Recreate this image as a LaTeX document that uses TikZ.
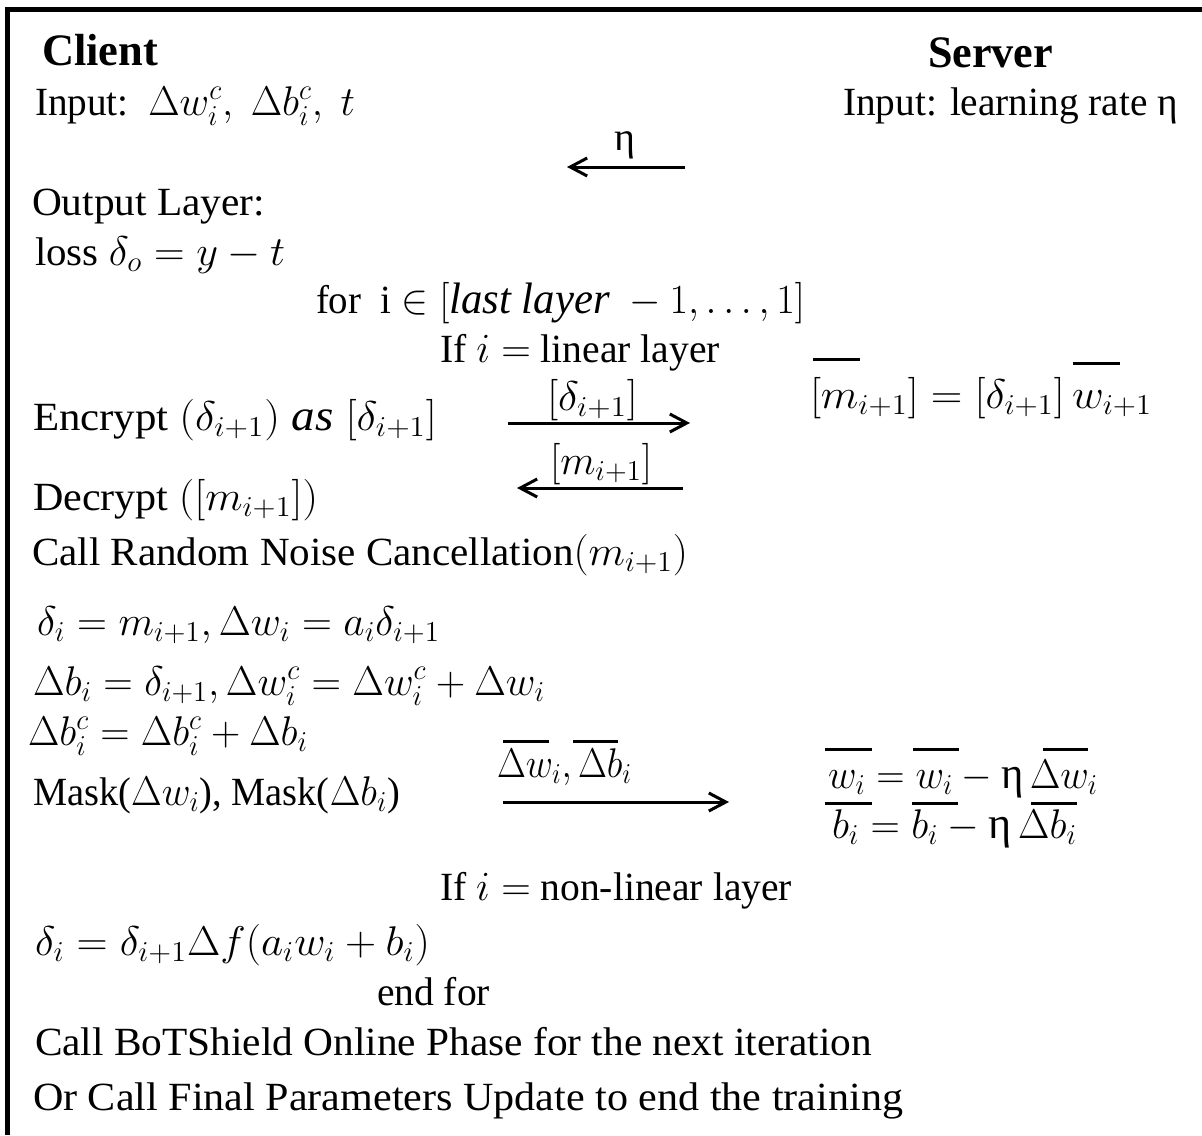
\documentclass[tikz,border=0pt]{standalone}
\usepackage{fontspec}
\setmainfont{Liberation Serif}
\usepackage{amsmath}
\usepackage{graphicx}
\usetikzlibrary{arrows.meta}
% set a line to a given width, keeping its natural height
\newcommand{\fitto}[2]{\resizebox{#1}{\height}{#2}}
\begin{document}
\begin{tikzpicture}[x=0.5pt,y=-0.5pt,
  lbl/.style={anchor=base west,inner sep=0pt,outer sep=0pt,font=\fontsize{20}{24}\selectfont},
  mlbl/.style={lbl,font=\fontsize{22.5}{27}\selectfont},
  hd/.style={lbl,font=\fontsize{22.5}{27}\selectfont\bfseries},
  msg/.style={line width=1.5pt,-{Straight Barb[length=8.5pt,width=9pt]}},
  frame/.style={line width=2.4pt,line join=miter},
  bar/.style={line width=1.5pt}]
\useasboundingbox (0,0) rectangle (1202,1135);

% open frame: left and top edges
\draw[frame] (7.5,1135) -- (7.5,9.8) -- (1202,9.8);

% headers and inputs
\node[hd] (client) at (42,65) {\fitto{58pt}{Client}};
\node[hd] (server) at (928,67) {\fitto{62.5pt}{Server}};
\node[lbl] (cin) at (35,115) {\fitto{160pt}{Input:\ \ {\fontsize{22}{26}\selectfont$\Delta w_i^c,\ \Delta b_i^c,\ t$}}};
\node[lbl] (sin) at (843,115) {\fitto{167.5pt}{Input: learning rate η}};

% learning rate sent to the client
\node[lbl,anchor=base] (eta) at (625,150) {η};
\coordinate (etaS) at (685,167);
\coordinate (etaC) at (567,167);
\draw[msg] (etaS) -- (etaC);

% client: output layer
\node[lbl] (outl) at (32,215) {\fitto{116.5pt}{Output Layer:}};
\node[lbl] (loss) at (35,265) {\fitto{125pt}{loss {\fontsize{22}{26}\selectfont$\delta_o = y - t$}}};
\node[lbl] (forl) at (316,313) {\fitto{244.5pt}{for\ \ i {\fontsize{22}{26}\selectfont$\in [\mathit{last\ layer}\ -1,\ldots,1]$}}};
\node[lbl] (iflin) at (440,362) {\fitto{140pt}{If $i =$ linear layer}};

% linear layer exchange
\node[mlbl] (smul) at (810,408) {\fitto{171pt}{$[m_{i+1}] = [\delta_{i+1}]\,w_{i+1}$}};
\draw[bar] (813,359) -- (860,359);
\draw[bar] (1073,363) -- (1120,363);

\node[lbl] (enc) at (33,430) {\fitto{202pt}{Encrypt {\fontsize{22}{26}\selectfont$(\delta_{i+1})\ \mathit{as}\ [\delta_{i+1}]$}}};
\node[mlbl] (dlab) at (547,410) {\fitto{45.5pt}{$[\delta_{i+1}]$}};
\coordinate (dC) at (508,423);
\coordinate (dS) at (690,423);
\draw[msg] (dC) -- (dS);

\node[mlbl] (mlab) at (550,474) {\fitto{51pt}{$[m_{i+1}]$}};
\coordinate (mS) at (683,488);
\coordinate (mC) at (517,488);
\draw[msg] (mS) -- (mC);

\node[lbl] (dec) at (33,510) {\fitto{142.5pt}{Decrypt {\fontsize{22}{26}\selectfont$([m_{i+1}])$}}};
\node[lbl] (rnc) at (32,565) {\fitto{328pt}{Call Random Noise Cancellation{\fontsize{22}{26}\selectfont$(m_{i+1})$}}};

% gradients
\node[mlbl] (g1) at (37,635) {\fitto{201.5pt}{$\delta_i = m_{i+1}, \Delta w_i = a_i\delta_{i+1}$}};
\node[mlbl] (g2) at (33,695) {\fitto{256pt}{$\Delta b_i = \delta_{i+1}, \Delta w_i^c = \Delta w_i^c + \Delta w_i$}};
\node[mlbl] (g3) at (28,745) {\fitto{140pt}{$\Delta b_i^c = \Delta b_i^c + \Delta b_i$}};
\node[lbl] (mask) at (33,805) {\fitto{183.5pt}{Mask($\Delta w_i$), Mask($\Delta b_i$)}};

% masked gradients sent to the server
\node[mlbl] (glab) at (497,777) {\fitto{67.5pt}{$\Delta w_i, \Delta b_i$}};
\draw[bar] (503,741) -- (549,741);
\draw[bar] (573,741) -- (618,741);
\coordinate (gC) at (503,802);
\coordinate (gS) at (729,802);
\draw[msg] (gC) -- (gS);

% server update
\node[mlbl] (uw) at (828,788) {\fitto{135pt}{$w_i = w_i - \mbox{η}\,\Delta w_i$}};
\node[mlbl] (ub) at (832,838) {\fitto{122.5pt}{$b_i = b_i - \mbox{η}\,\Delta b_i$}};
\draw[bar] (825,749) -- (872,749);
\draw[bar] (913,749) -- (959,749);
\draw[bar] (1043,749) -- (1088,749);
\draw[bar] (825,803) -- (872,803);
\draw[bar] (912,803) -- (958,803);
\draw[bar] (1031,803) -- (1077,803);

% non-linear layer
\node[lbl] (ifnl) at (440,900) {\fitto{176pt}{If $i =$ non-linear layer}};
\node[mlbl] (nl) at (35,955) {\fitto{197.5pt}{$\delta_i = \delta_{i+1}\Delta f(a_i w_i + b_i)$}};
\node[lbl] (endf) at (377,1005) {\fitto{56.5pt}{end for}};

% next step
\node[lbl] (next) at (35,1055) {\fitto{418.5pt}{Call BoTShield Online Phase for the next iteration}};
\node[lbl] (fin) at (33,1110) {\fitto{435pt}{Or Call Final Parameters Update to end the training}};
\end{tikzpicture}
\end{document}
